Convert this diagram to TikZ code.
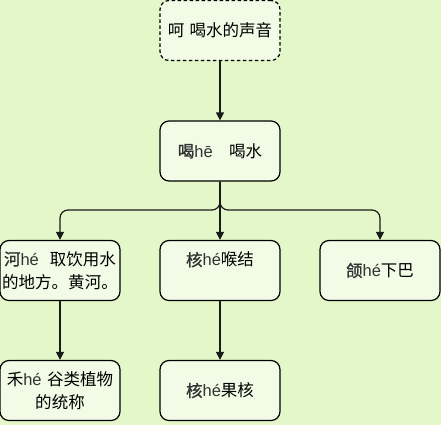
\documentclass[tikz,border=0pt]{standalone}
\usepackage{fontspec}
\setmainfont{Liberation Sans}
\newfontfamily\cjk{Noto Sans CJK SC}
\newfontfamily\cjkb[FakeBold=1.2]{Noto Sans CJK SC}
\usetikzlibrary{arrows.meta}
\definecolor{bgc}{HTML}{E4F7C8}
\definecolor{boxfill}{HTML}{F1FBE6}
\definecolor{pyc}{HTML}{333333}
\newcommand\hz[1]{{\cjk #1}}
\newcommand\hzb[1]{{\cjkb\color{pyc}#1}}
\newcommand\pyn[1]{{\color{pyc}#1}}
\tikzset{
  box/.style={draw=black, fill=boxfill, rounded corners=9pt, minimum width=120pt,
    minimum height=60pt, line width=1.2pt, align=center, text width=118pt,
    inner sep=1pt, font=\fontsize{16.5}{23}\selectfont},
  dbox/.style={box, dash pattern=on 3.5pt off 2.5pt},
  link/.style={-{Triangle[length=8pt,width=8pt]}, line width=1.2pt, draw=black!90}
}
\begin{document}
\begin{tikzpicture}[x=1pt,y=-1pt]
\fill[bgc] (0,0) rectangle (441,425);
\useasboundingbox (0,0) rectangle (441,425);
\node[dbox] (top) at (220,30.5) {\hz{呵 喝水的声音}};
\node[box] (he) at (220,151) {\hzb{喝}\pyn{hē}\ \ \ \hz{喝水}};
\node[box] (river) at (60,270.5) {\hzb{河}\pyn{hé}\ \ \hz{取饮用水}\\\hz{的地方。黄河。}};
\node[box] (throat) at (220,270.5) {\hzb{核}\pyn{hé}\hz{喉结}\\[0pt]\vphantom{x}};
\node[box] (jaw) at (380,270.5) {\hzb{颌}\pyn{hé}\hz{下巴}};
\node[box] (grain) at (60,390.5) {\hz{禾}\pyn{hé} \hz{谷类植物}\\\hz{的统称}};
\node[box] (core) at (220,390.5) {\hzb{核}\pyn{hé}\hz{果核}};
\coordinate (split) at (220,210);
\draw[link] (top) -- (he);
\draw[link] (he) -- (throat);
\draw[link, rounded corners=8pt] (he.south) -- (split) -| (river.north);
\draw[link, rounded corners=8pt] (he.south) -- (split) -| (jaw.north);
\draw[link] (river) -- (grain);
\draw[link] (throat) -- (core);
\end{tikzpicture}
\end{document}
